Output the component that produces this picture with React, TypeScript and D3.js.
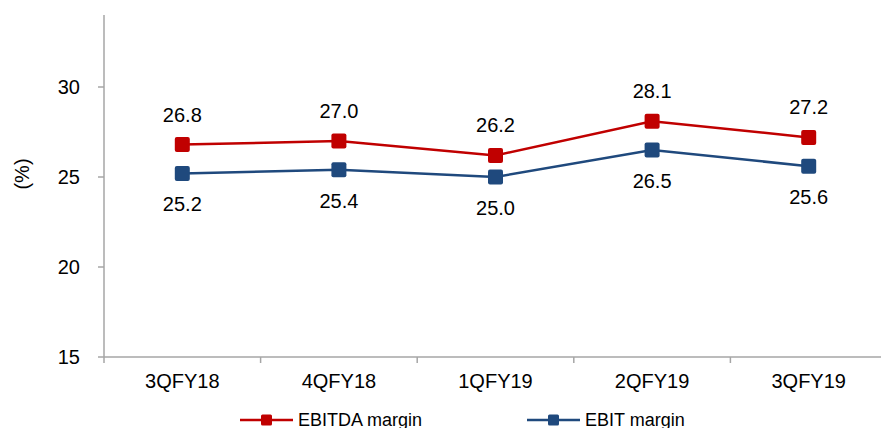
import React from "react";
import * as d3 from "d3";

const categories = ["3QFY18", "4QFY18", "1QFY19", "2QFY19", "3QFY19"];
const ebitdaMargin = [26.8, 27.0, 26.2, 28.1, 27.2];
const ebitMargin = [25.2, 25.4, 25.0, 26.5, 25.6];
const yTicks = [15, 20, 25, 30];
const seriesNames = ["EBITDA margin", "EBIT margin"];

const W = 881;
const H = 428;
const FONT = "'Liberation Sans', Arial, Helvetica, sans-serif";
const RED = "#C00000";
const BLUE = "#1F497D";
const AXIS = "#A6A6A6";

export default function App() {
  const x = d3.scaleBand<string>().domain(categories).range([104, 887]).padding(0);
  const y = d3.scaleLinear().domain([15, 34]).range([357, 15]);
  const cx = (c: string) => (x(c) as number) + x.bandwidth() / 2;

  const line = d3
    .line<number>()
    .x((_, i) => cx(categories[i]))
    .y((d) => y(d));

  const series = [
    { name: seriesNames[0], values: ebitdaMargin, color: RED, labelDy: -23 },
    { name: seriesNames[1], values: ebitMargin, color: BLUE, labelDy: 38 },
  ];

  const ms = 15;
  const legend = [
    { name: seriesNames[0], color: RED, x0: 240 },
    { name: seriesNames[1], color: BLUE, x0: 527 },
  ];

  return (
    <svg
      width={W}
      height={H}
      style={{ position: "absolute", left: 0, top: 0, background: "#fff" }}
      fontFamily={FONT}
    >
      {/* y axis */}
      <line x1={104} x2={104} y1={y(34)} y2={363} stroke={AXIS} strokeWidth={1.5} />
      {yTicks.map((t) => (
        <g key={t}>
          <line x1={98} x2={104} y1={y(t)} y2={y(t)} stroke={AXIS} strokeWidth={1.5} />
          <text x={80} y={y(t)} dy="0.35em" textAnchor="end" fontSize={20} fill="#000">
            {t}
          </text>
        </g>
      ))}
      <text
        transform={`translate(22,174) rotate(-90)`}
        textAnchor="middle"
        dy="0.35em"
        fontSize={20}
        fill="#000"
      >
        (%)
      </text>

      {/* x axis */}
      <line x1={104} x2={W} y1={y(15)} y2={y(15)} stroke={AXIS} strokeWidth={1.5} />
      {categories.map((c) => (
        <g key={c}>
          <line
            x1={(x(c) as number) + x.bandwidth()}
            x2={(x(c) as number) + x.bandwidth()}
            y1={y(15)}
            y2={y(15) + 6}
            stroke={AXIS}
            strokeWidth={1.5}
          />
          <text x={cx(c)} y={388} textAnchor="middle" fontSize={20} fill="#000">
            {c}
          </text>
        </g>
      ))}

      {/* series */}
      {series.map((s) => (
        <g key={s.name}>
          <path d={line(s.values) as string} fill="none" stroke={s.color} strokeWidth={2.5} />
          {s.values.map((v, i) => (
            <rect
              key={i}
              x={cx(categories[i]) - ms / 2}
              y={y(v) - ms / 2}
              width={ms}
              height={ms}
              rx={2}
              fill={s.color}
            />
          ))}
          {s.values.map((v, i) => (
            <text
              key={"l" + i}
              x={cx(categories[i])}
              y={y(v) + s.labelDy}
              textAnchor="middle"
              fontSize={20}
              fill="#000"
            >
              {v.toFixed(1)}
            </text>
          ))}
        </g>
      ))}

      {/* legend */}
      {legend.map((l) => (
        <g key={l.name}>
          <line x1={l.x0} x2={l.x0 + 53} y1={420} y2={420} stroke={l.color} strokeWidth={2.5} />
          <rect x={l.x0 + 26.5 - 5.5} y={420 - 5.5} width={11} height={11} rx={1.5} fill={l.color} />
          <text x={l.x0 + 58} y={426} fontSize={18} fill="#000">
            {l.name}
          </text>
        </g>
      ))}
    </svg>
  );
}
